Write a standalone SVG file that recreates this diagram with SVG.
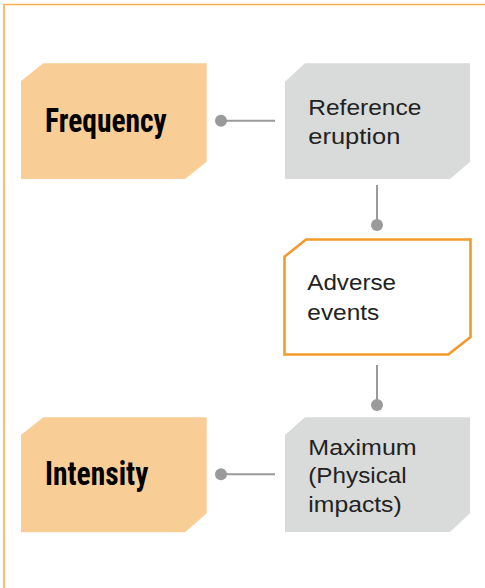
<svg xmlns="http://www.w3.org/2000/svg" width="485" height="588" viewBox="0 0 485 588">
<defs>
<style>
.frame{fill:none;stroke:#F6AE4E;stroke-width:1.6}
.drv{fill:#F9CD96}
.gry{fill:#D9DADA}
.adv{fill:#FFFFFF;stroke:#F29B2C;stroke-width:2.6}
.lbl{font-family:"Liberation Sans Narrow","Roboto Condensed","Liberation Sans",Arial,sans-serif;font-weight:bold;font-size:33px;fill:#000}
.txt{font-family:"Liberation Sans","DejaVu Sans",Arial,sans-serif;font-size:22px;fill:#222}
.con{stroke:#9A9A9A;stroke-width:2;fill:none}
.dot{fill:#9A9A9A}
</style>
</defs>
<rect width="485" height="588" fill="#FFFFFF"/>
<path class="frame" d="M4 588 V4.5 H485"/>
<g id="connectors">
<line class="con" x1="221" y1="120.7" x2="275" y2="120.7"/>
<circle class="dot" cx="221" cy="120.7" r="6"/>
<line class="con" x1="377" y1="185" x2="377" y2="225"/>
<circle class="dot" cx="377" cy="225" r="6"/>
<line class="con" x1="377" y1="365" x2="377" y2="405"/>
<circle class="dot" cx="377" cy="405" r="6"/>
<line class="con" x1="221" y1="474.3" x2="275" y2="474.3"/>
<circle class="dot" cx="221" cy="474.3" r="6"/>
</g>
<g id="frequency">
<polygon class="drv" points="43.3,63.3 206.7,63.3 206.7,161.7 185,179 21,179 21,81"/>
<text class="lbl" x="45" y="132.3" textLength="121.7" lengthAdjust="spacingAndGlyphs">Frequency</text>
</g>
<g id="reference-eruption">
<polygon class="gry" points="305,63.3 470,63.3 470,161.7 450,179 285,179 285,81.7"/>
<text class="txt" x="308.3" y="115" textLength="113" lengthAdjust="spacingAndGlyphs">Reference</text>
<text class="txt" x="308.3" y="143.5" textLength="92" lengthAdjust="spacingAndGlyphs">eruption</text>
</g>
<g id="adverse-events">
<polygon class="adv" points="306,239.5 470.5,239.5 470.5,337 448.3,354.5 284.5,354.5 284.5,256.7"/>
<text class="txt" x="307.3" y="290" textLength="88.7" lengthAdjust="spacingAndGlyphs">Adverse</text>
<text class="txt" x="307.3" y="320" textLength="72" lengthAdjust="spacingAndGlyphs">events</text>
</g>
<g id="intensity">
<polygon class="drv" points="43.3,417.3 206.7,417.3 206.7,513.3 185,532.3 21,532.3 21,435"/>
<text class="lbl" x="45" y="485" textLength="103.3" lengthAdjust="spacingAndGlyphs">Intensity</text>
</g>
<g id="maximum">
<polygon class="gry" points="305,417.3 470,417.3 470,513.3 450,532 285,532 285,435"/>
<text class="txt" x="308.3" y="455" textLength="108.4" lengthAdjust="spacingAndGlyphs">Maximum</text>
<text class="txt" x="308.3" y="482.5" textLength="98.4" lengthAdjust="spacingAndGlyphs">(Physical</text>
<text class="txt" x="308.3" y="511.7" textLength="93.4" lengthAdjust="spacingAndGlyphs">impacts)</text>
</g>
</svg>
